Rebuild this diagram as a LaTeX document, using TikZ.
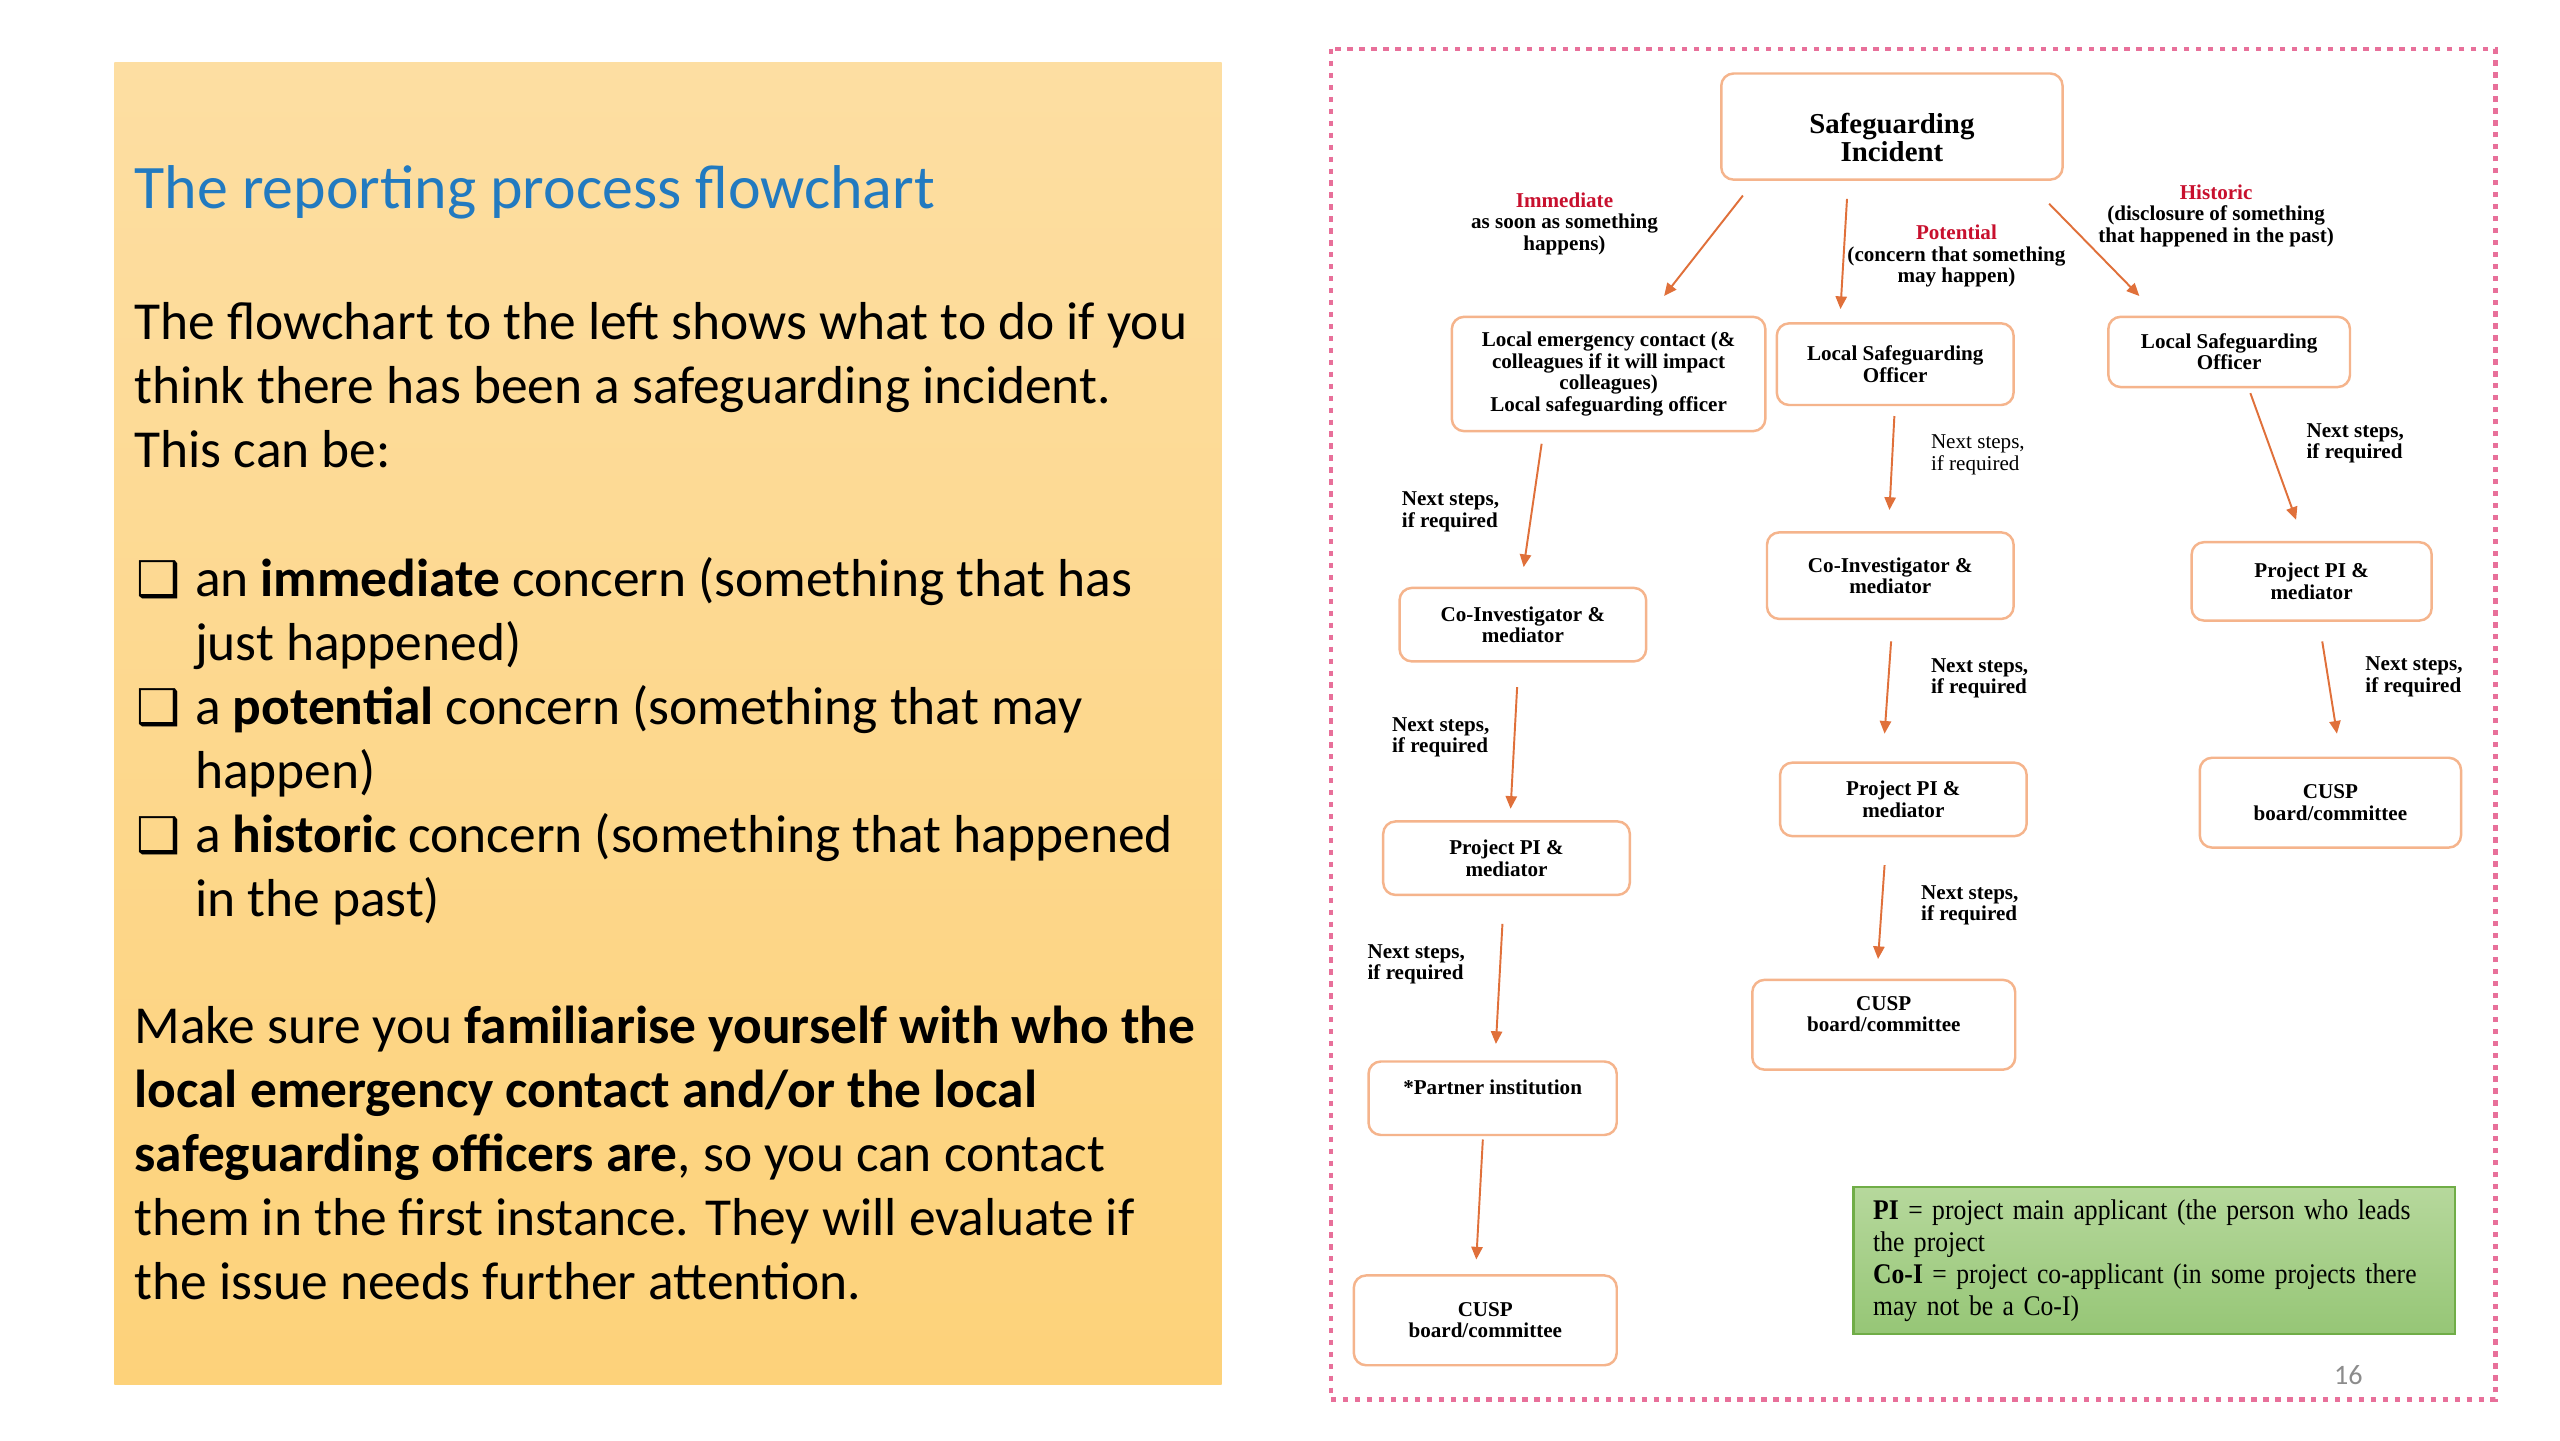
\documentclass[tikz,border=0pt]{standalone}
\usepackage{fontspec}
\setmainfont{Carlito}
\newfontfamily\tnr{Liberation Serif}
\newfontfamily\tnrkey[FakeStretch=0.9]{Liberation Serif}
\newfontfamily\sym{DejaVu Sans}
\usetikzlibrary{arrows.meta}
\definecolor{panelTop}{RGB}{253,222,162}
\definecolor{panelBottom}{RGB}{253,210,122}
\definecolor{titleBlue}{RGB}{34,122,192}
\definecolor{boxEdge}{RGB}{245,180,140}
\definecolor{linkOrange}{RGB}{224,112,58}
\definecolor{alertRed}{RGB}{200,16,46}
\definecolor{framePink}{RGB}{232,112,154}
\definecolor{keyTop}{RGB}{182,216,156}
\definecolor{keyBottom}{RGB}{150,198,118}
\definecolor{keyEdge}{RGB}{112,173,71}
\definecolor{pageGrey}{RGB}{140,140,140}
\tikzset{boxdim/.style 2 args={minimum width=#1*0.01633cm, minimum height=#2*0.01633cm}}

\begin{document}
\begin{tikzpicture}[x=0.01633cm, y=-0.01633cm]
\tikzstyle{body}=[anchor=base west, inner sep=0pt, font=\fontsize{15.2}{18.3}\selectfont]
\tikzstyle{tick}=[anchor=base west, inner sep=0pt, font=\sym\fontsize{14}{14}\selectfont]
\tikzstyle{flowbox}=[draw=boxEdge, line width=0.7pt, fill=white, rounded corners=3.5pt, align=center, inner sep=1pt, font=\tnr\bfseries\fontsize{6}{6.1}\selectfont]
\tikzstyle{branch}=[align=center, inner sep=0pt, font=\tnr\bfseries\fontsize{6}{6.1}\selectfont]
\tikzstyle{nextlbl}=[anchor=west, align=left, inner sep=0pt, font=\tnr\bfseries\fontsize{6}{6.1}\selectfont]
\tikzstyle{link}=[draw=linkOrange, line width=0.55pt, -{Triangle[length=3.6pt,width=3.2pt]}]
\useasboundingbox (0,0) rectangle (1567.6,881.8);
\fill[white] (0,0) rectangle (1567.6,881.8);

% left panel
\shade[top color=panelTop, bottom color=panelBottom] (70,38) rectangle (748,848);
\node[anchor=base west, inner sep=0pt, text=titleBlue, font=\fontsize{17.6}{20}\selectfont] (title) at (82,127.5) {The reporting process flowchart};

\node[body] (t1) at (82,208) {The flowchart to the left shows what to do if you};
\node[body] (t2) at (82,247.2) {think there has been a safeguarding incident.};
\node[body] (t3) at (82,286.4) {This can be:};

\node[tick] (b1) at (83,365) {❑};
\node[body] (t4) at (119,365) {an \textbf{immediate} concern (something that has};
\node[body] (t5) at (119,404.2) {just happened)};
\node[tick] (b2) at (83,443.4) {❑};
\node[body] (t6) at (119,443.4) {a \textbf{potential} concern (something that may};
\node[body] (t7) at (119,482.6) {happen)};
\node[tick] (b3) at (83,521.8) {❑};
\node[body] (t8) at (119,521.8) {a \textbf{historic} concern (something that happened};
\node[body] (t9) at (119,561) {in the past)};

\node[body] (t10) at (82,639) {Make sure you \textbf{familiarise yourself with who the}};
\node[body] (t11) at (82,678.2) {\textbf{local emergency contact and/or the local}};
\node[body] (t12) at (82,717.4) {\textbf{safeguarding officers are}, so you can contact};
\node[body] (t13) at (82,756.6) {them in the first instance. They will evaluate if};
\node[body] (t14) at (82,795.8) {the issue needs further attention.};

% right panel
\draw[framePink, line width=1.4pt, dash pattern=on 1.5pt off 1.9pt] (815,30) rectangle (1528,857);

\node[flowbox, boxdim={209}{65}, font=\tnr\bfseries\fontsize{8.2}{8}\selectfont] (si) at (1158.5,77.5) {\rule{0pt}{12pt}Safeguarding\\Incident};

\node[flowbox, boxdim={192}{70}] (lec) at (985,229) {Local emergency contact (\&\\colleagues if it will impact\\colleagues)\\Local safeguarding officer};
\node[flowbox, boxdim={145}{50}] (lsoB) at (1160.5,223) {Local Safeguarding\\Officer};
\node[flowbox, boxdim={148}{43}] (lsoC) at (1365,215.5) {Local Safeguarding\\Officer};

\node[flowbox, boxdim={151}{45}] (coiA) at (932.5,382.5) {Co-Investigator \&\\mediator};
\node[flowbox, boxdim={151}{45}] (ppiA) at (922.5,525.5) {Project PI \&\\mediator};
\node[flowbox, boxdim={152}{45}] (partner) at (914,672.5) {*Partner institution\\ \mbox{}};
\node[flowbox, boxdim={161}{55}] (cuspA) at (909.5,808.5) {CUSP\\board/committee};

\node[flowbox, boxdim={151}{53}] (coiB) at (1157.5,352.5) {Co-Investigator \&\\mediator};
\node[flowbox, boxdim={151}{45}] (ppiB) at (1165.5,489.5) {Project PI \&\\mediator};
\node[flowbox, boxdim={161}{55}] (cuspB) at (1153.5,627.5) {CUSP\\board/committee\\ \mbox{}};

\node[flowbox, boxdim={147}{48}] (ppiC) at (1415.5,356) {Project PI \&\\mediator};
\node[flowbox, boxdim={160}{55}] (cuspC) at (1427,491.5) {CUSP\\board/committee};

% branch labels
\node[branch] (imm) at (958,137) {{\color{alertRed}Immediate}\\as soon as something\\happens)};
\node[branch] (pot) at (1198,157) {{\color{alertRed}Potential}\\(concern that something\\may happen)};
\node[branch] (his) at (1357,132) {{\color{alertRed}Historic}\\(disclosure of something\\that happened in the past)};

\node[nextlbl] (nsA1) at (858,313.5) {Next steps,\\if required};
\node[nextlbl] (nsA2) at (852,451.5) {Next steps,\\if required};
\node[nextlbl] (nsA3) at (837,590.5) {Next steps,\\if required};
\node[nextlbl, font=\tnr\fontsize{6}{6.1}\selectfont] (nsB1) at (1182,278.5) {Next steps,\\if required};
\node[nextlbl] (nsB2) at (1182,415.5) {Next steps,\\if required};
\node[nextlbl] (nsB3) at (1176,554.5) {Next steps,\\if required};
\node[nextlbl] (nsC1) at (1412,271.5) {Next steps,\\if required};
\node[nextlbl] (nsC2) at (1448,414.5) {Next steps,\\if required};

% arrows
\draw[link] ([shift={(14,9)}]si.south west) -- ([shift={(34,-12)}]lec.north);
\draw[link] ([shift={(-27.5,11)}]si.south) -- ([shift={(-33.5,-8)}]lsoB.north);
\draw[link] ([shift={(-9,14)}]si.south east) -- ([shift={(-55,-12)}]lsoC.north);

\draw[link] ([shift={(-41,7)}]lec.south) -- ([shift={(0.5,-12)}]coiA.north);
\draw[link] ([shift={(-3.5,15)}]coiA.south) -- ([shift={(2.5,-7)}]ppiA.north);
\draw[link] ([shift={(-2.5,17)}]ppiA.south) -- ([shift={(2,-10)}]partner.north);
\draw[link] ([shift={(-6,2)}]partner.south) -- ([shift={(-5.5,-9)}]cuspA.north);

\draw[link] ([shift={(-0.5,6)}]lsoB.south) -- ([shift={(-0.5,-13)}]coiB.north);
\draw[link] ([shift={(0.5,13)}]coiB.south) -- ([shift={(-11.5,-17)}]ppiB.north);
\draw[link] ([shift={(-11.5,17)}]ppiB.south) -- ([shift={(-3.5,-12)}]cuspB.north);

\draw[link] ([shift={(13,3)}]lsoC.south) -- ([shift={(-9.5,-13)}]ppiC.north);
\draw[link] ([shift={(6.5,12)}]ppiC.south) -- ([shift={(4,-14)}]cuspC.north);

% key
\node[draw=keyEdge, line width=0.6pt, top color=keyTop, bottom color=keyBottom, text width=344*0.01633cm, inner xsep=5.6pt, minimum height=90*0.01633cm, align=left, font=\tnrkey\fontsize{8.1}{9.1}\selectfont] (key) at (1319,772) {\textbf{PI} = project main applicant (the person who leads\\the project\\\textbf{Co-I} = project co-applicant (in some projects there\\may not be a Co-I)};

\node[inner sep=0pt, text=pageGrey, font=\fontsize{8}{8}\selectfont] (pg) at (1438,842) {16};
\end{tikzpicture}
\end{document}
